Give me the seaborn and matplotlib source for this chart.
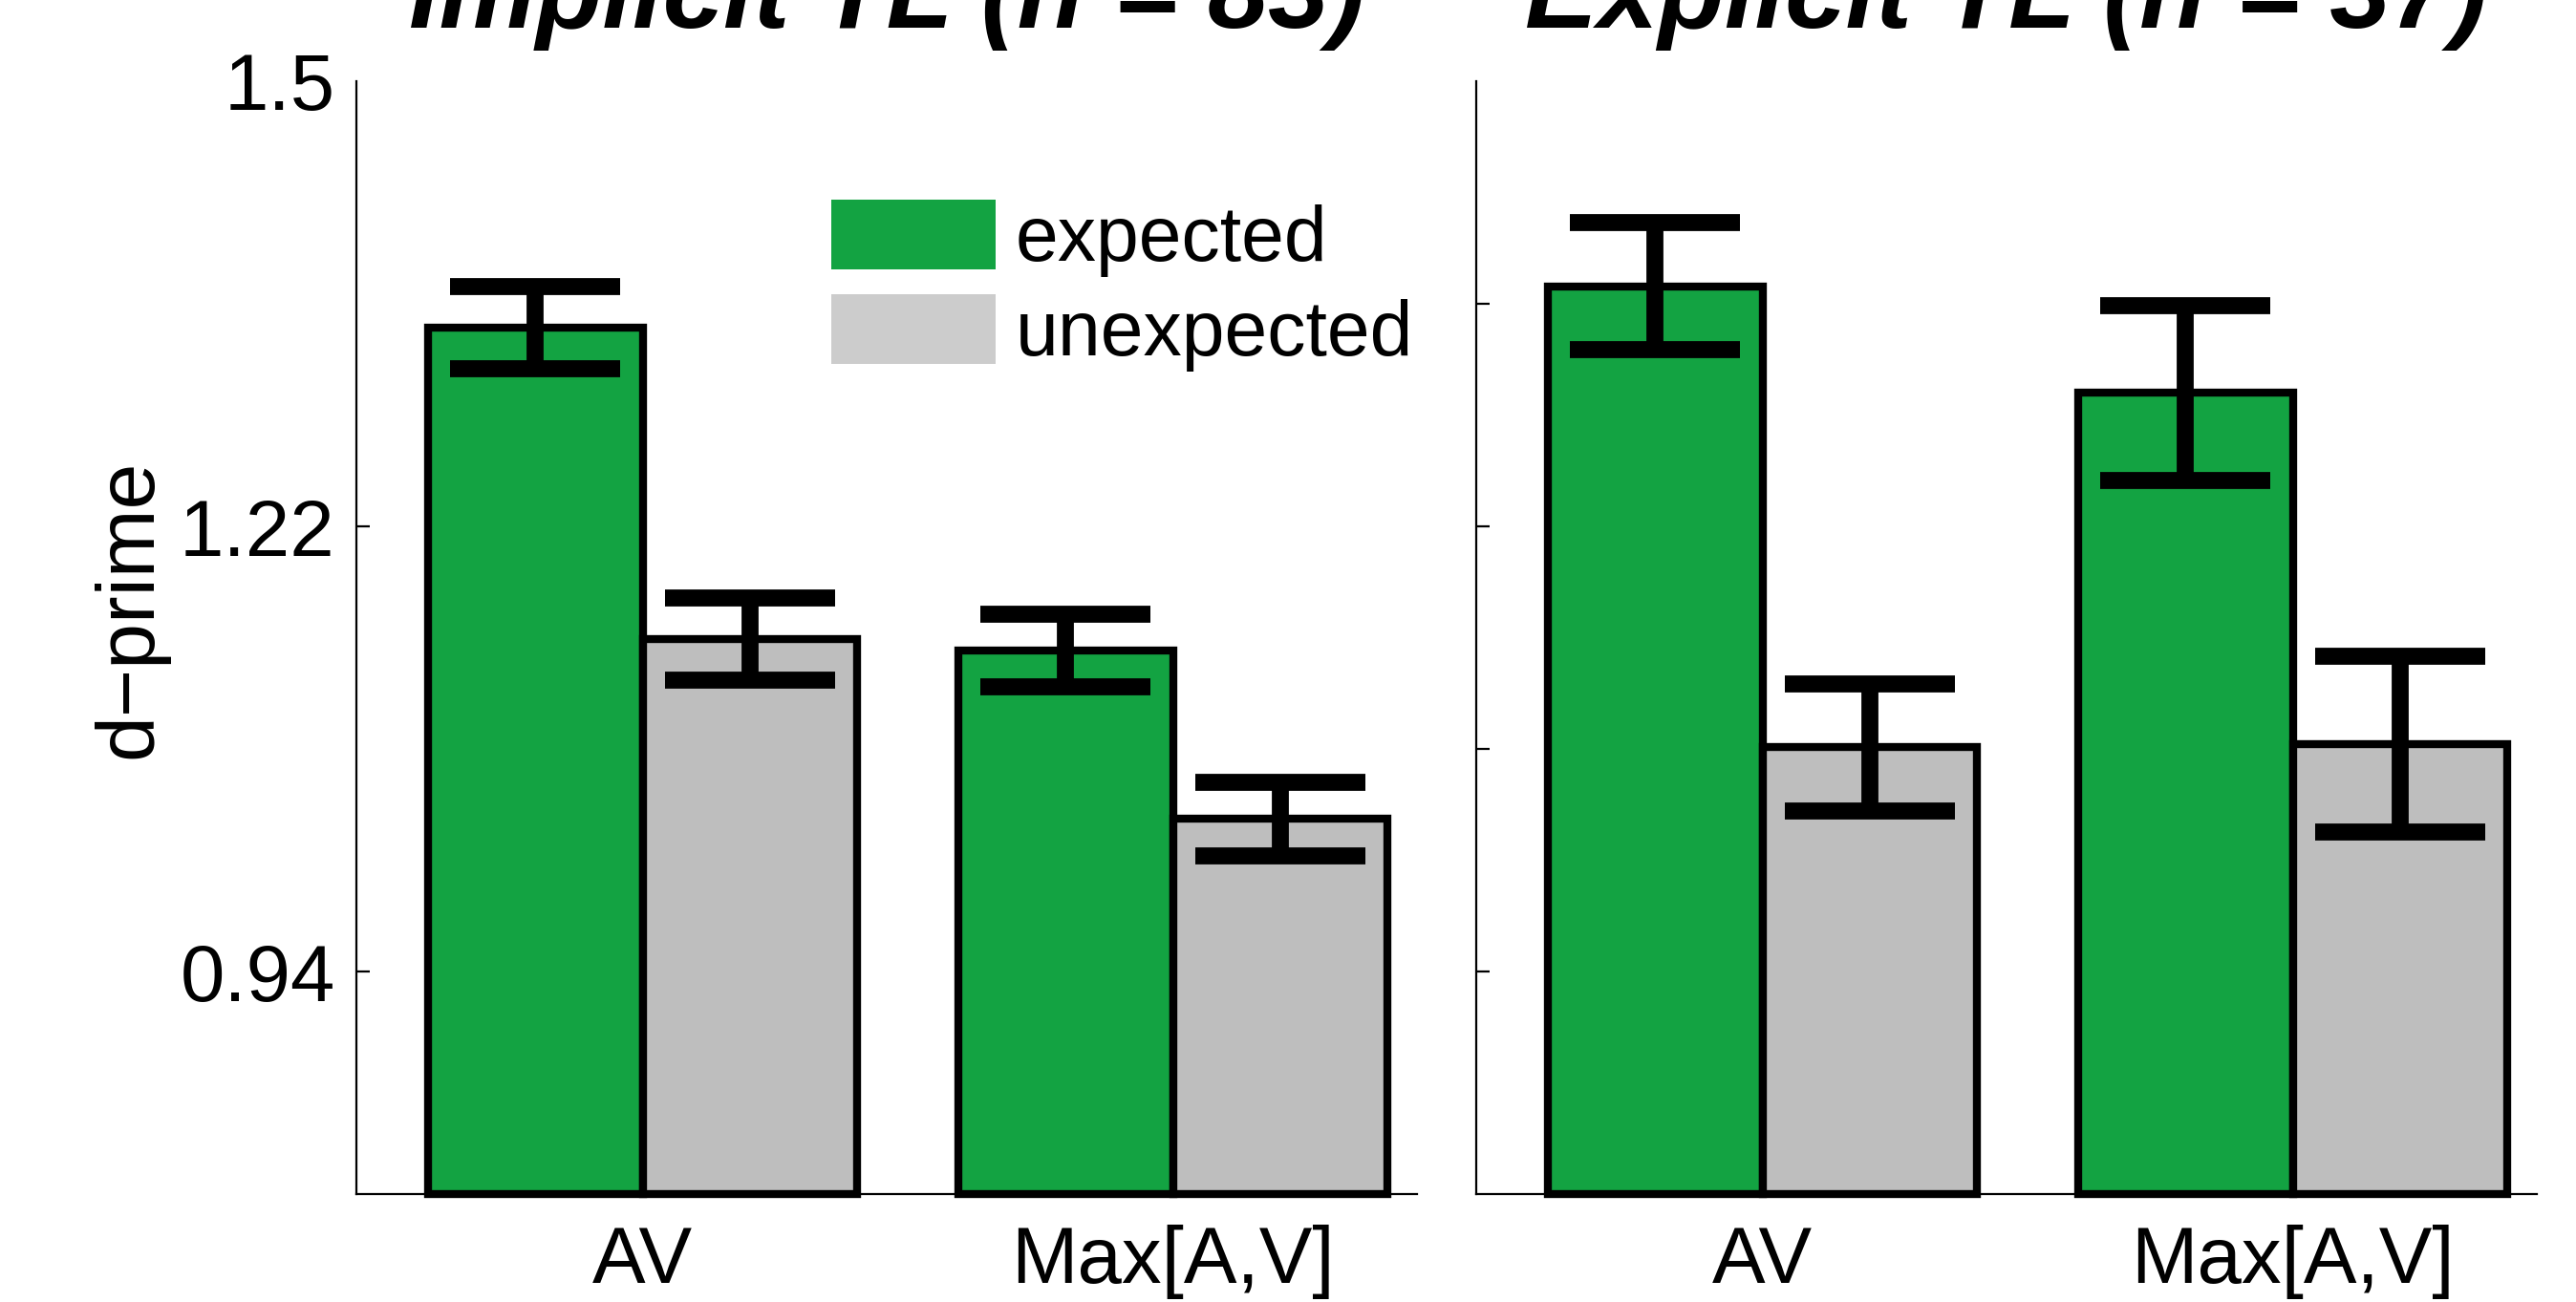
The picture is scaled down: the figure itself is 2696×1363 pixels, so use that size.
import matplotlib
matplotlib.use("Agg")
import matplotlib.pyplot as plt
from matplotlib.patches import Patch
import seaborn as sns
import pandas as pd

# ---- data ----
categories = ["AV", "Max[A,V]"]
conditions = ["expected", "unexpected"]
panel_titles = ["Implicit TL (n = 83)", "Explicit TL (n = 37)"]

implicit_expected = [1.345, 1.142]
implicit_expected_err = [0.026, 0.023]
implicit_unexpected = [1.149, 1.036]
implicit_unexpected_err = [0.026, 0.023]

explicit_expected = [1.371, 1.304]
explicit_expected_err = [0.040, 0.055]
explicit_unexpected = [1.081, 1.083]
explicit_unexpected_err = [0.040, 0.055]

left_ticks = [0.94, 1.22, 1.5]
left_ticklabels = ["0.94", "1.22", "1.5"]
right_ticks = [0.94, 1.08, 1.22, 1.36, 1.5]
y_label = "d\u2212prime"

# ---- style ----
sns.set_style("white")
plt.rcParams["font.family"] = ["Liberation Sans", "DejaVu Sans"]
for k in ["text.color", "axes.labelcolor", "xtick.color", "ytick.color",
          "axes.edgecolor"]:
    plt.rcParams[k] = "black"

GREEN = "#13A342"
GRAY = "#BEBEBE"
LEG_GRAY = "#CCCCCC"
YLO, YHI = 0.80, 1.50

W, H, DPI = 2696, 1363, 200
fig = plt.figure(figsize=(W / DPI, H / DPI), dpi=DPI)
ax_left = fig.add_axes([373 / W, 1 - 1250 / H, 1110 / W, 1165 / H])
ax_right = fig.add_axes([1545 / W, 1 - 1250 / H, 1110 / W, 1165 / H])

panels = [
    (ax_left, implicit_expected, implicit_unexpected,
     implicit_expected_err, implicit_unexpected_err),
    (ax_right, explicit_expected, explicit_unexpected,
     explicit_expected_err, explicit_unexpected_err),
]

for i, (ax, exp_v, unexp_v, exp_e, unexp_e) in enumerate(panels):
    df = pd.DataFrame({
        "category": categories * 2,
        "condition": [conditions[0]] * 2 + [conditions[1]] * 2,
        "value": exp_v + unexp_v,
    })
    sns.barplot(data=df, x="category", y="value", hue="condition",
                order=categories, hue_order=conditions,
                palette=[GREEN, GRAY], width=0.81, errorbar=None,
                edgecolor="black", linewidth=3.0, legend=False, ax=ax,
                saturation=1)
    errs = [exp_e, unexp_e]
    for cont, err in zip(ax.containers, errs):
        xs, tops = [], []
        for p in cont.patches:
            h = p.get_height()
            p.set_y(YLO)
            p.set_height(h - YLO)
            p.set_clip_on(False)
            p.set_zorder(2)
            xs.append(p.get_x() + p.get_width() / 2)
            tops.append(h)
        ax.errorbar(xs, tops, yerr=err, fmt="none", ecolor="black",
                    elinewidth=6.4, capsize=32, capthick=6.4, zorder=5,
                    clip_on=False)

    ax.set_ylim(YLO, YHI)
    ax.set_xlim(-0.54, 1.46)
    ax.set_xlabel("")
    ax.set_ylabel("")
    ax.set_title(panel_titles[i], fontsize=41, fontweight="bold",
                 fontstyle="italic", pad=20, color="black")
    for s in ["top", "right"]:
        ax.spines[s].set_visible(False)
    for s in ["left", "bottom"]:
        ax.spines[s].set_linewidth(0.8)
        ax.spines[s].set_color("black")
        ax.spines[s].set_zorder(1)
    ax.tick_params(axis="x", length=0, pad=11.5, labelsize=30,
                   colors="black")
    ax.tick_params(axis="y", direction="in", length=5, width=0.8,
                   pad=8, labelsize=30, left=True, colors="black")

ax_left.set_yticks(left_ticks)
ax_left.set_yticklabels(left_ticklabels)
ax_left.yaxis.get_major_ticks()[-1].tick1line.set_visible(False)
ax_left.set_ylabel(y_label, fontsize=31, color="black")
ax_left.yaxis.set_label_coords(-0.177, 0.526)

ax_right.set_yticks(right_ticks)
ax_right.set_yticklabels([])
ax_right.yaxis.get_major_ticks()[-1].tick1line.set_visible(False)

handles = [Patch(facecolor=GREEN, edgecolor="none", label=conditions[0]),
           Patch(facecolor=LEG_GRAY, edgecolor="none", label=conditions[1])]
ax_left.legend(handles=handles, loc="upper left",
               bbox_to_anchor=(870 / W, 1 - 209 / H),
               bbox_transform=fig.transFigure, frameon=False,
               fontsize=29, borderpad=0, borderaxespad=0,
               handlelength=2.14, handleheight=1.02, handletextpad=0.25,
               labelspacing=0.22, labelcolor="black")

fig.savefig("out.png", dpi=DPI)
